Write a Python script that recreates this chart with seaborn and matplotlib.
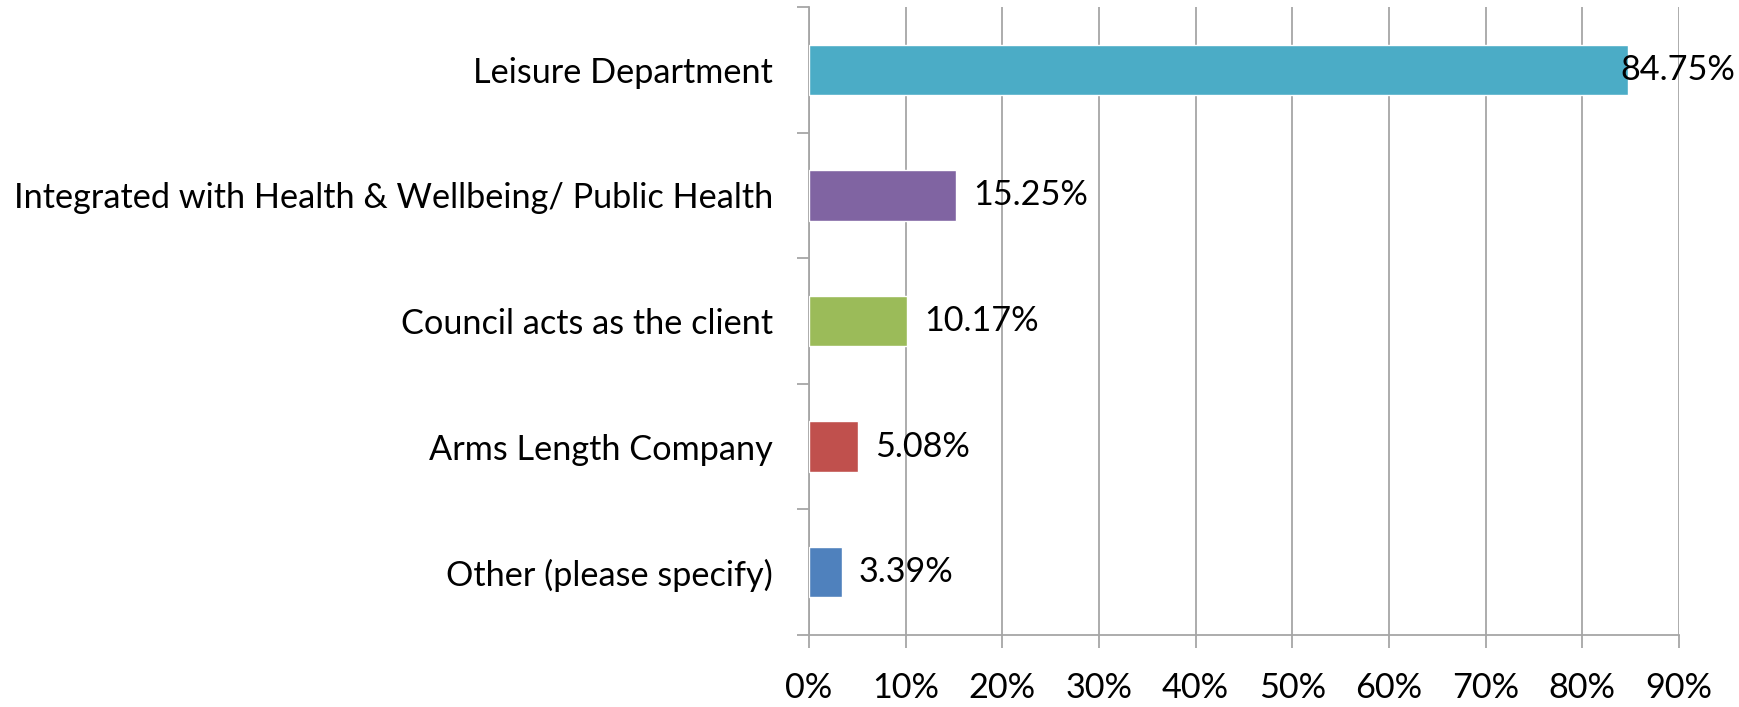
import matplotlib
matplotlib.use("Agg")
import matplotlib.pyplot as plt
import matplotlib.ticker as mticker
import seaborn as sns
import pandas as pd

categories = [
    "Leisure Department",
    "Integrated with Health & Wellbeing/ Public Health",
    "Council acts as the client",
    "Arms Length Company",
    "Other (please specify)",
]
values = [84.75, 15.25, 10.17, 5.08, 3.39]
labels = ["84.75%", "15.25%", "10.17%", "5.08%", "3.39%"]
colors = ["#4BACC6", "#8064A2", "#9BBB59", "#C0504D", "#4F81BD"]
xticks = [0, 10, 20, 30, 40, 50, 60, 70, 80, 90]

sns.set_theme(style="white")
plt.rcParams["font.family"] = ["Lato", "DejaVu Sans"]

df = pd.DataFrame({"cat": categories, "val": values})

fig = plt.figure(figsize=(17.39, 7.07), dpi=100)
ax = fig.add_axes([809 / 1739, 1 - 635 / 707, 870 / 1739, 628 / 707])

sns.barplot(data=df, x="val", y="cat", hue="cat", palette=colors,
            order=categories, hue_order=categories, width=0.4,
            legend=False, ax=ax, zorder=3, saturation=1)

ax.set_xlim(0, 90)
ax.set_ylim(4.5, -0.5)
ax.set_xticks(xticks)
ax.xaxis.set_major_formatter(mticker.FuncFormatter(lambda v, p: f"{int(v)}%"))
ax.set_xlabel("")
ax.set_ylabel("")

ax.grid(axis="x", color="#A6A6A6", linewidth=1.3, zorder=0)
ax.grid(axis="y", visible=False)
for s in ["top", "right"]:
    ax.spines[s].set_visible(False)
for s in ["left", "bottom"]:
    ax.spines[s].set_color("#A6A6A6")
    ax.spines[s].set_linewidth(1.3)

ax.tick_params(axis="x", which="major", length=9, width=1.3, color="#A6A6A6",
               bottom=True, labelsize=24.7, pad=18, labelcolor="black")
ax.set_yticks(range(len(categories)))
ax.set_yticklabels(categories)
ax.tick_params(axis="y", which="major", length=0, labelsize=24.7, pad=26,
               labelcolor="black")
ax.set_yticks([i - 0.5 for i in range(len(categories) + 1)], minor=True)
ax.tick_params(axis="y", which="minor", length=9, width=1.3, color="#A6A6A6",
               left=True)

for i, (v, lab) in enumerate(zip(values, labels)):
    off = 12 if v < 80 else -6
    ax.annotate(lab, xy=(v, i), xytext=(off, 0), textcoords="offset points",
                ha="left", va="center", fontsize=24.7, color="black",
                zorder=5, annotation_clip=False)

fig.savefig("out.png", dpi=100)
